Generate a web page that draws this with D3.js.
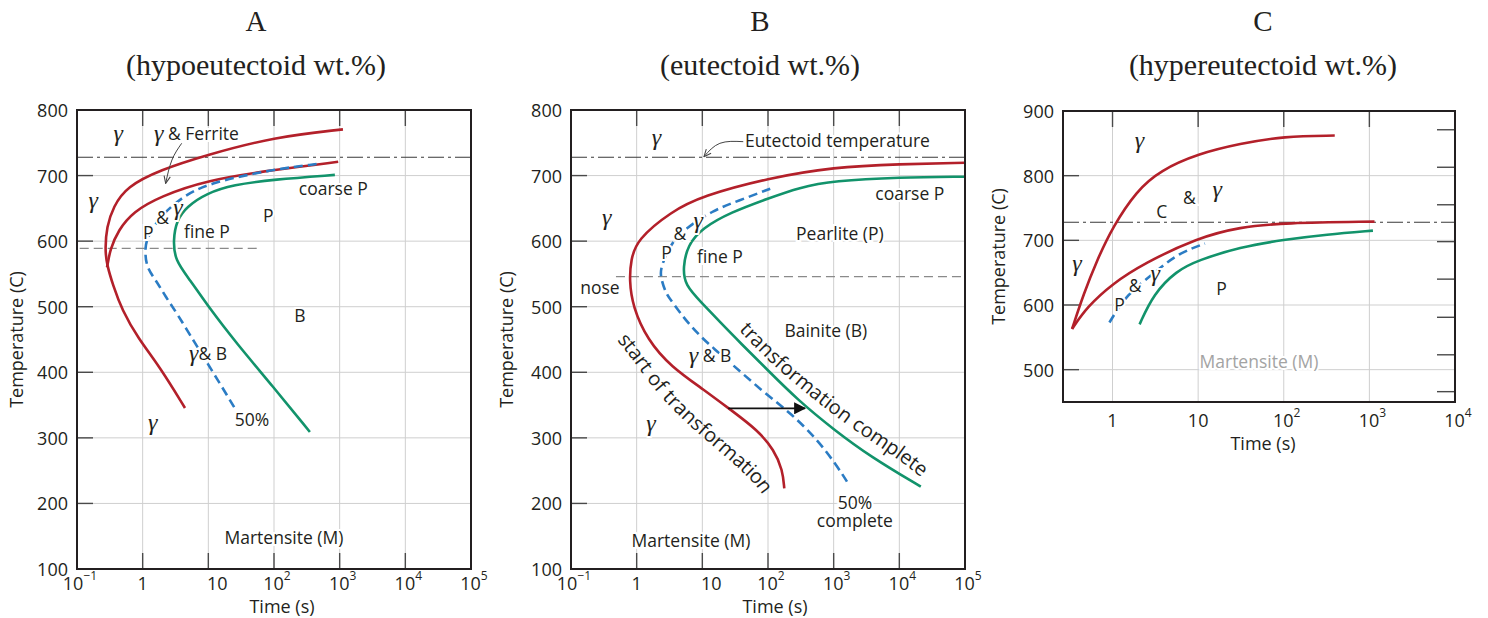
<!DOCTYPE html>
<html>
<head>
<meta charset="utf-8">
<script src="https://cdn.jsdelivr.net/npm/d3@7"></script>
<style>
  body { margin: 0; background: #fff; }
  text { font-family: "Open Sans", sans-serif; fill: #231f20; }
</style>
</head>
<body>
<script>
// all curves: [time (s), temperature (C)]
const xTicksAB = [0.1, 1, 10, 100, 1000, 10000, 100000];
const yTicksAB = [100, 200, 300, 400, 500, 600, 700, 800];
const xTicksC = [1, 10, 100, 1000, 10000];
const yTicksC = [500, 600, 700, 800, 900];
const yRightTicksC = [871, 813, 755, 698, 640, 581, 523, 466];

const eutectoidT = 728;

// A - hypoeutectoid
const aFerriteStart = [[1122, 770.5], [100, 758.8], [9.4, 731.4], [1.83, 708.5], [0.57, 683], [0.357, 652.5],
  [0.283, 622], [0.267, 586.5], [0.286, 563.6], [0.353, 533], [0.484, 495], [0.848, 452], [1.83, 408], [4.41, 345.5]];
const aPearliteStart = [[949, 721], [97, 708.5], [9.4, 693], [1.83, 668], [0.72, 645], [0.426, 617],
  [0.318, 586.5], [0.295, 566], [0.286, 560]];
const aHalf = [[445, 717.6], [97, 709.5], [9.4, 688], [3.7, 665], [1.83, 637], [1.22, 609], [1.08, 591.5],
  [1.12, 561], [1.58, 541], [2.24, 515], [3.33, 490], [6.3, 444], [9.7, 414], [25.4, 345]];
const aFinish = [[845, 701], [97, 694], [23.9, 686], [9.4, 673], [4.68, 652.5], [3.29, 632], [2.92, 602],
  [3.09, 571], [5.25, 541], [10, 500], [26.9, 444], [97, 378], [352, 309]];
const aNoseT = 589, aNoseSpan = [0.11, 65];
const aLabels = [["γ", 0.426, 764.5], ["γ & Ferrite", 6.6, 765], ["γ", 0.177, 662.7], ["coarse P", 800, 681],
  ["P", 81.7, 640], ["&", 2.01, 637.3], ["γ", 3.44, 652.5], ["P", 1.22, 614.4], ["fine P", 9.5, 615.5],
  ["B", 248, 487.4], ["γ& B", 9.9, 429.4], ["γ", 1.42, 324.6], ["50%", 46.1, 328.7], ["Martensite (M)", 141.6, 148.8]];
const aPointer = [[3.93, 749.2], [2.79, 723.7], [2.24, 688.2]];

// B - eutectoid
const bStart = [[100000, 719.6], [10000, 717.5], [1000, 713], [100, 696], [10, 669], [3.33, 645], [1, 602],
  [0.818, 571], [0.773, 541], [0.869, 500], [1.47, 449], [3.33, 408.5], [10.7, 373], [27.2, 342.5],
  [69.3, 312], [124, 281.5], [167, 251], [177, 223]];
const bHalf = [[108, 680], [34.4, 661], [15.2, 648], [5.62, 620], [3.33, 597], [2.34, 561], [2.29, 546],
  [2.79, 520], [3.33, 510], [5.97, 475], [12, 444], [27.2, 414], [78, 373], [223, 337.5], [569, 297],
  [1148, 256], [1722, 228]];
const bFinish = [[100000, 698.3], [10000, 697.3], [1000, 692], [300, 682], [100, 665], [27, 644], [10, 620],
  [5.97, 594], [5.07, 560], [5.4, 533], [10, 505], [19.2, 475], [38.7, 444], [98.4, 403.5], [282, 358],
  [1019, 312], [3681, 271], [21230, 225.5]];
const bNoseT = 546, bNoseSpan = [0.484, 100000];
const bLabels = [["γ", 2.01, 759.3], ["γ", 0.349, 637.3], ["coarse P", 14450, 673.4], ["Pearlite (P)", 1242, 612.4],
  ["&", 4.56, 612], ["γ", 8.67, 632.2], ["P", 2.86, 584], ["fine P", 18.5, 577.3], ["nose", 0.276, 530],
  ["Bainite (B)", 760, 464.5], ["γ & B", 13.1, 426.4], ["γ", 1.65, 322.2], ["50%", 2104, 202.2],
  ["complete", 2104, 174.7], ["Martensite (M)", 6.7, 144.2]];
const bEutectoidNote = ["Eutectoid temperature", 44.5, 754.2];
const bPointer = [[42, 751.7], [18.5, 749.2], [10.6, 728.8]];
const bArrow = [[24.8, 345], [365, 345]];
const bStartText = "start of transformation";
const bStartTextPath = [[0.421, 476.7], [1.12, 426.4], [2.43, 376], [9.19, 319.6], [37.3, 269.3], [89.7, 232.7], [141.6, 197.6]];
const bFinishText = "transformation complete";
const bFinishTextPath = [[29.2, 491.9], [107, 430.9], [365, 385.2], [1766, 330.3], [10190, 281.5], [41300, 232.7]];

// C - hypereutectoid
const cCementiteStart = [[0.337, 563], [0.459, 617], [0.658, 669], [1, 720.5], [1.92, 777], [3.6, 808],
  [10, 834], [30.8, 849.5], [100, 861], [394, 862]];
const cPearliteStart = [[0.337, 563], [0.504, 597], [1, 633], [2.3, 664], [9.9, 704], [30.8, 720.5],
  [100, 727], [1148, 729]];
const cHalf = [[0.92, 573], [1.47, 617], [3.0, 648], [5.6, 679], [12, 695]];
const cFinish = [[2.07, 570], [3.0, 617], [5.6, 653], [9.9, 669], [30.8, 689.5], [100, 701], [316, 709], [1100, 715]];
const cLabels = [["γ", 2.07, 854.4], ["&", 7.9, 767.3], ["γ", 16.7, 779.3], ["C", 3.77, 745.6], ["γ", 0.385, 665.2],
  ["P", 1.21, 601.4], ["&", 1.84, 631.6], ["γ", 3.15, 649.6], ["P", 18.8, 626.3]];
const cMartensite = ["Martensite (M)", 51.3, 513.4];

const titles = [["A", "(hypoeutectoid wt.%)"], ["B", "(eutectoid wt.%)"], ["C", "(hypereutectoid wt.%)"]];

const RED = "#b3202a", GREEN = "#12936b", BLUE = "#2b7cc4", INK = "#231f20";

const svg = d3.select("body").append("svg")
  .attr("width", 1488).attr("height", 618)
  .style("background", "#fff");

const defs = svg.append("defs");
defs.append("marker").attr("id", "open").attr("viewBox", "0 0 10 10")
  .attr("refX", 9).attr("refY", 5).attr("markerWidth", 9).attr("markerHeight", 9)
  .attr("orient", "auto")
  .append("path").attr("d", "M1,1.5 L9,5 L1,8.5").attr("fill", "none").attr("stroke", "#444").attr("stroke-width", 1.2);
defs.append("marker").attr("id", "solid").attr("viewBox", "0 0 10 10")
  .attr("refX", 9).attr("refY", 5).attr("markerWidth", 14).attr("markerHeight", 12)
  .attr("markerUnits", "userSpaceOnUse").attr("orient", "auto")
  .append("path").attr("d", "M0,0 L10,5 L0,10 z").attr("fill", "#111");

// titles
const titleX = [256, 760, 1263];
titles.forEach((t, i) => {
  svg.append("text").attr("x", titleX[i]).attr("y", 31).attr("text-anchor", "middle")
    .style("font-family", "'Liberation Serif', serif").style("font-size", "29px").text(t[0]);
  svg.append("text").attr("x", titleX[i]).attr("y", 75).attr("text-anchor", "middle")
    .style("font-family", "'Liberation Serif', serif").style("font-size", "30px").text(t[1]);
});

function addLabel(g, x, y, d, opt) {
  opt = opt || {};
  const t = g.append("text")
    .attr("x", x(d[1])).attr("y", y(d[2]))
    .attr("text-anchor", opt.anchor || "middle")
    .attr("dominant-baseline", "central")
    .style("font-size", "17.5px")
    .attr("stroke", "#fff").attr("stroke-width", 4).attr("paint-order", "stroke")
    .style("fill", opt.color || INK);
  d[0].split(/(γ)/).filter(s => s.length).forEach(s => {
    const sp = t.append("tspan").text(s);
    if (s === "γ") sp.style("font-family", "'Liberation Serif', serif").style("font-style", "italic").style("font-size", "24px");
  });
}

function panel(p) {
  const g = svg.append("g");
  const x = d3.scaleLog().domain(p.xDomain).range([p.left, p.right]);
  const y = d3.scaleLinear().domain(p.yDomain).range([p.bottom, p.top]);

  // grid
  g.append("g").selectAll("line").data(p.xTicks.filter(v => x(v) > p.left + 1 && x(v) < p.right - 1)).join("line")
    .attr("x1", d => x(d)).attr("x2", d => x(d)).attr("y1", p.top).attr("y2", p.bottom)
    .attr("stroke", "#cfcfcf").attr("stroke-width", 1);
  g.append("g").selectAll("line").data(p.yTicks.filter(v => y(v) > p.top + 1 && y(v) < p.bottom - 1)).join("line")
    .attr("x1", p.left).attr("x2", p.right).attr("y1", d => y(d)).attr("y2", d => y(d))
    .attr("stroke", "#cfcfcf").attr("stroke-width", 1);

  // inner ticks
  const tk = g.append("g").attr("stroke", "#4a4a4a").attr("stroke-width", 1.4);
  tk.selectAll(".l").data(p.yTicks).join("line")
    .attr("x1", p.left).attr("x2", p.left + 16).attr("y1", d => y(d)).attr("y2", d => y(d));
  tk.selectAll(".t").data(p.xTicks).join("line")
    .attr("x1", d => x(d)).attr("x2", d => x(d)).attr("y1", p.top).attr("y2", p.top + 16);
  if (p.bottomTicks) tk.selectAll(".b").data(p.xTicks).join("line")
    .attr("x1", d => x(d)).attr("x2", d => x(d)).attr("y1", p.bottom).attr("y2", p.bottom - 16);
  if (p.rightTicks) tk.selectAll(".r").data(p.rightTicks).join("line")
    .attr("x1", p.right).attr("x2", p.right - 18).attr("y1", d => y(d)).attr("y2", d => y(d));

  // eutectoid line
  g.append("line").attr("x1", p.left).attr("x2", p.right)
    .attr("y1", y(eutectoidT)).attr("y2", y(eutectoidT))
    .attr("stroke", "#3a3a3a").attr("stroke-width", 1.1).attr("stroke-dasharray", "16,4,3,4");

  if (p.noseT) g.append("line").attr("x1", x(p.noseSpan[0])).attr("x2", x(p.noseSpan[1]))
    .attr("y1", y(p.noseT)).attr("y2", y(p.noseT))
    .attr("stroke", "#8a8a8a").attr("stroke-width", 1.3).attr("stroke-dasharray", "9,5");

  const line = d3.line().x(d => x(d[0])).y(d => y(d[1])).curve(d3.curveBasis);
  p.curves.forEach(c => {
    g.append("path").attr("d", line(c.data)).attr("fill", "none")
      .attr("stroke", c.color).attr("stroke-width", 2.6)
      .attr("stroke-dasharray", c.dash || null);
  });

  // frame
  g.append("rect").attr("x", p.left).attr("y", p.top)
    .attr("width", p.right - p.left).attr("height", p.bottom - p.top)
    .attr("fill", "none").attr("stroke", INK).attr("stroke-width", 2);

  // tick labels
  g.append("g").selectAll("text").data(p.yTicks).join("text")
    .attr("x", p.left - 9).attr("y", d => y(d)).attr("text-anchor", "end")
    .attr("dominant-baseline", "central").style("font-size", "18px").text(d => d);
  p.xTicks.forEach(v => {
    const e = Math.round(Math.log10(v));
    const t = g.append("text").attr("y", p.bottom + p.xLabelGap)
      .attr("dominant-baseline", "central").style("font-size", "18px");
    if (e === 0) t.attr("x", x(v)).attr("text-anchor", "middle").text("1");
    else if (e === 1) t.attr("x", x(v) + p.tenShift).attr("text-anchor", "middle").text("10");
    else {
      t.attr("x", x(v) + 3).attr("text-anchor", "middle");
      t.append("tspan").text("10");
      t.append("tspan").attr("dy", -8).style("font-size", "12px").text(e < 0 ? "\u2212" + (-e) : e);
    }
  });

  // axis titles
  g.append("text").attr("x", (p.left + p.right) / 2 + p.timeShift).attr("y", p.bottom + p.timeGap)
    .attr("text-anchor", "middle").attr("dominant-baseline", "central").style("font-size", "18px").text("Time (s)");
  g.append("text").attr("transform", `translate(${p.tempX},${(p.top + p.bottom) / 2}) rotate(-90)`)
    .attr("text-anchor", "middle").attr("dominant-baseline", "central").style("font-size", "18px").text("Temperature (C)");

  const lg = g.append("g");
  p.labels.forEach(d => addLabel(lg, x, y, d));
  return { g, x, y };
}

// ---- A ----
const A = panel({
  left: 77, right: 471, top: 110, bottom: 569,
  xDomain: [0.1, 100000], yDomain: [100, 800],
  xTicks: xTicksAB, yTicks: yTicksAB, bottomTicks: true,
  xLabelGap: 14, tenShift: 9, timeGap: 37, timeShift: 8, tempX: 16,
  noseT: aNoseT, noseSpan: aNoseSpan,
  curves: [
    { data: aFerriteStart, color: RED },
    { data: aPearliteStart, color: RED },
    { data: aFinish, color: GREEN },
    { data: aHalf, color: BLUE, dash: "9,5" }
  ],
  labels: aLabels
});
A.g.append("path").attr("d", d3.line().x(d => A.x(d[0])).y(d => A.y(d[1])).curve(d3.curveNatural)(aPointer))
  .attr("fill", "none").attr("stroke", "#444").attr("stroke-width", 1).attr("marker-end", "url(#open)");

// ---- B ----
const B = panel({
  left: 571, right: 965, top: 110, bottom: 569,
  xDomain: [0.1, 100000], yDomain: [100, 800],
  xTicks: xTicksAB, yTicks: yTicksAB, bottomTicks: true,
  xLabelGap: 14, tenShift: 9, timeGap: 37, timeShift: 7, tempX: 506,
  noseT: bNoseT, noseSpan: bNoseSpan,
  curves: [
    { data: bStart, color: RED },
    { data: bFinish, color: GREEN },
    { data: bHalf, color: BLUE, dash: "9,5" }
  ],
  labels: bLabels
});
addLabel(B.g, B.x, B.y, bEutectoidNote, { anchor: "start" });
B.g.append("path").attr("d", d3.line().x(d => B.x(d[0])).y(d => B.y(d[1])).curve(d3.curveNatural)(bPointer))
  .attr("fill", "none").attr("stroke", "#444").attr("stroke-width", 1).attr("marker-end", "url(#open)");
B.g.append("line").attr("x1", B.x(bArrow[0][0])).attr("x2", B.x(bArrow[1][0]))
  .attr("y1", B.y(bArrow[0][1])).attr("y2", B.y(bArrow[1][1]))
  .attr("stroke", "#111").attr("stroke-width", 1.8).attr("marker-end", "url(#solid)");

const basis = d3.line().x(d => B.x(d[0])).y(d => B.y(d[1])).curve(d3.curveBasis);
[["startPath", bStartTextPath, bStartText], ["finishPath", bFinishTextPath, bFinishText]].forEach(([id, pts, txt]) => {
  defs.append("path").attr("id", id).attr("d", basis(pts));
  B.g.append("text").attr("dominant-baseline", "central").style("font-size", "20px")
    .append("textPath").attr("href", "#" + id).attr("startOffset", "50%").attr("text-anchor", "middle").text(txt);
});

// ---- C ----
const C = panel({
  left: 1063, right: 1455, top: 111, bottom: 402,
  xDomain: [0.264, 10000], yDomain: [450, 900],
  xTicks: xTicksC, yTicks: yTicksC, rightTicks: yRightTicksC, bottomTicks: false,
  xLabelGap: 18, tenShift: 0, timeGap: 41, timeShift: 4, tempX: 998,
  curves: [
    { data: cCementiteStart, color: RED },
    { data: cPearliteStart, color: RED },
    { data: cFinish, color: GREEN },
    { data: cHalf, color: BLUE, dash: "9,5" }
  ],
  labels: cLabels
});
addLabel(C.g, C.x, C.y, cMartensite, { color: "#a3a3a3" });
</script>
</body>
</html>
